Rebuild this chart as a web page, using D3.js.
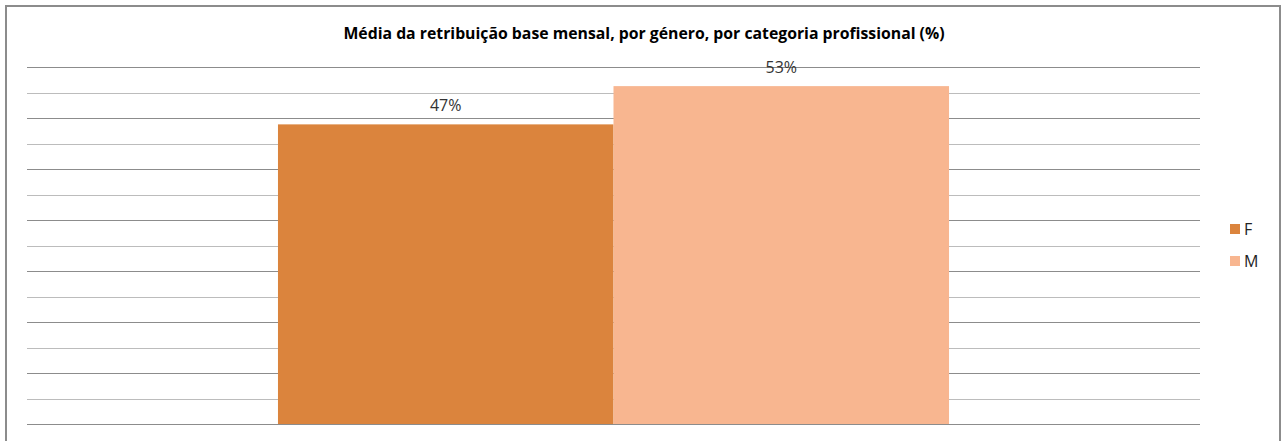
<!DOCTYPE html>
<html>
<head>
<meta charset="utf-8">
<script src="https://cdn.jsdelivr.net/npm/d3@7"></script>
<style>
  body { margin: 0; background: #fff; }
  text { font-family: "Open Sans", "Liberation Sans", sans-serif; }
</style>
</head>
<body>
<div id="chart"></div>
<script>
// Data
const categories = ['Total'];
const seriesNames = ['F', 'M'];
const seriesValues = [0.47, 0.53];
const seriesColors = ['#DB843D', '#F8B690'];
const titleText = 'Média da retribuição base mensal, por género, por categoria profissional (%)';

// Layout
const W = 1286, H = 441;
const plot = { left: 27, right: 1200, top: 67, bottom: 424 };

const svg = d3.select('#chart')
  .append('svg')
  .attr('width', W)
  .attr('height', H);

// Outer frame
svg.append('rect')
  .attr('x', 6).attr('y', 6)
  .attr('width', 1274).attr('height', 450)
  .attr('fill', '#fff')
  .attr('stroke', '#8c8c8c')
  .attr('stroke-width', 2);

// Title
svg.append('text')
  .attr('x', 644).attr('y', 38.5)
  .attr('text-anchor', 'middle')
  .attr('font-size', 15.8)
  .attr('font-weight', 'bold')
  .attr('fill', '#000')
  .text(titleText);

// Scales
const yScale = d3.scaleLinear().domain([0, 0.56]).range([plot.bottom, plot.top]);
const xScale = d3.scaleBand().domain(categories).range([plot.left, plot.right]).paddingInner(0).paddingOuter(0.374);
const xSub = d3.scaleBand().domain(seriesNames).range([0, xScale.bandwidth()]);

// Gridlines
const ticks = d3.range(0, 0.5601, 0.04);
svg.append('g')
  .selectAll('line')
  .data(ticks)
  .join('line')
  .attr('x1', plot.left).attr('x2', plot.right)
  .attr('y1', d => Math.round(yScale(d)) + 0.5)
  .attr('y2', d => Math.round(yScale(d)) + 0.5)
  .attr('stroke', (d, i) => i % 2 ? '#bcbcbc' : '#8c8c8c')
  .attr('stroke-width', 1);

// Bars
const bars = svg.append('g');
seriesNames.forEach((name, i) => {
  const x = xScale(categories[0]) + xSub(name);
  bars.append('rect')
    .attr('x', x)
    .attr('y', yScale(seriesValues[i]))
    .attr('width', xSub.bandwidth())
    .attr('height', yScale(0) - yScale(seriesValues[i]))
    .attr('fill', seriesColors[i]);
  bars.append('text')
    .attr('x', x + xSub.bandwidth() / 2)
    .attr('y', yScale(seriesValues[i]) - 13)
    .attr('text-anchor', 'middle')
    .attr('font-size', 16)
    .attr('fill', '#333')
    .text(d3.format('.0%')(seriesValues[i]));
});

// Legend
const legend = svg.append('g').attr('transform', 'translate(1230, 224)');
seriesNames.forEach((name, i) => {
  const g = legend.append('g').attr('transform', `translate(0, ${i * 32})`);
  g.append('rect').attr('width', 10).attr('height', 10).attr('fill', seriesColors[i]);
  g.append('text')
    .attr('x', 14).attr('y', 10.5)
    .attr('font-size', 16)
    .attr('fill', '#222')
    .text(name);
});
</script>
</body>
</html>
